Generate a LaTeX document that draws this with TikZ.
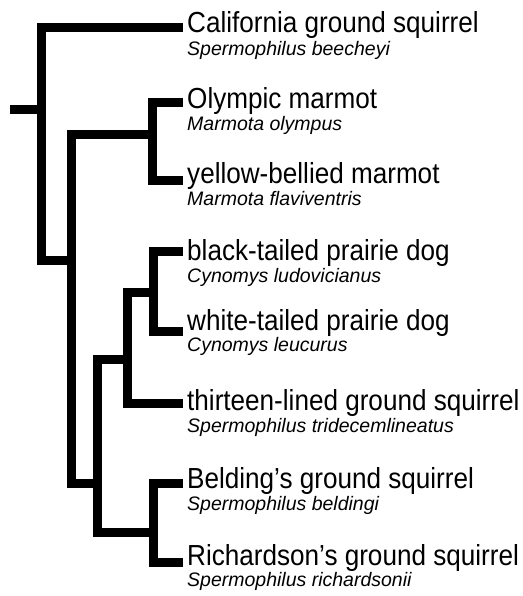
\documentclass[tikz,border=0pt]{standalone}
\usepackage{fontspec}
\setmainfont{Liberation Sans}
\newfontfamily\narrowfont[FakeStretch=0.9]{Liberation Sans}
\begin{document}
\begin{tikzpicture}[x=1pt,y=-1pt,
  branch/.style={line width=9pt,line cap=butt,line join=miter},
  common/.style={anchor=base west,inner sep=0pt,font=\narrowfont\fontsize{29}{29}\selectfont},
  latin/.style={anchor=base west,inner sep=0pt,font=\fontsize{19.5}{19.5}\selectfont\itshape}]
\useasboundingbox (0,0) rectangle (522,596);
% tree coordinates
\coordinate (root) at (10,109.5);
\coordinate (n1) at (41.5,109.5);
\coordinate (n2) at (71.5,260.5);
\coordinate (n3) at (152.5,134.5);
\coordinate (n4) at (97.5,483.5);
\coordinate (n5) at (127,359.5);
\coordinate (n6) at (153.5,532.5);
\coordinate (n7) at (153.5,292);
\coordinate (t1) at (183,28);
\coordinate (t2) at (183,102.5);
\coordinate (t3) at (183,180.5);
\coordinate (t4) at (183,251);
\coordinate (t5) at (183,331.5);
\coordinate (t6) at (183,403);
\coordinate (t7) at (183,483.5);
\coordinate (t8) at (183,562.5);
% branches
\draw[branch] (root) -- (n1);
\draw[branch] (t1) -| (n1) |- (n2);
\draw[branch] (n3) -| (n2) |- (n4);
\draw[branch] (t2) -| (n3) |- (t3);
\draw[branch] (n5) -| (n4) |- (n6);
\draw[branch] (n7) -| (n5) |- (t6);
\draw[branch] (t4) -| (n7) |- (t5);
\draw[branch] (t7) -| (n6) |- (t8);
% labels
\node[common] (c1) at (187,33) {California ground squirrel};
\node[latin] (s1) at (187,56) {Spermophilus beecheyi};
\node[common] (c2) at (187,109) {Olympic marmot};
\node[latin] (s2) at (187,131) {Marmota olympus};
\node[common] (c3) at (187,183) {yellow-bellied marmot};
\node[latin] (s3) at (187,205) {Marmota flaviventris};
\node[common] (c4) at (187,260) {black-tailed prairie dog};
\node[latin] (s4) at (187,282) {Cynomys ludovicianus};
\node[common] (c5) at (187,330) {white-tailed prairie dog};
\node[latin] (s5) at (187,351) {Cynomys leucurus};
\node[common] (c6) at (187,410) {thirteen-lined ground squirrel};
\node[latin] (s6) at (187,432) {Spermophilus tridecemlineatus};
\node[common] (c7) at (187,488) {Belding’s ground squirrel};
\node[latin] (s7) at (187,510) {Spermophilus beldingi};
\node[common] (c8) at (187,565) {Richardson’s ground squirrel};
\node[latin] (s8) at (187,586) {Spermophilus richardsonii};
\end{tikzpicture}
\end{document}
